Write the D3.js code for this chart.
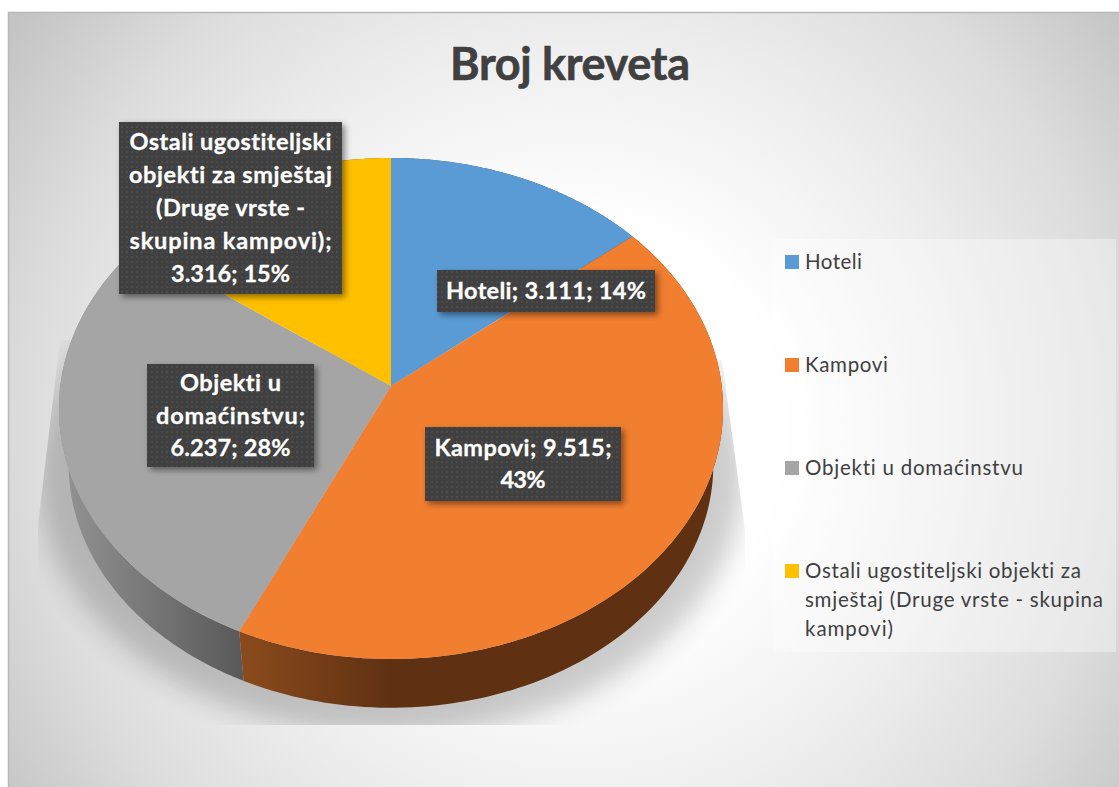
<!DOCTYPE html>
<html><head><meta charset="utf-8">
<script src="https://cdn.jsdelivr.net/npm/d3@7"></script>
<style>html,body{margin:0;padding:0;background:#fff;overflow:hidden}svg{display:block}text{font-family:Lato,"Open Sans",sans-serif;font-variant-ligatures:none}</style>
</head><body><svg id="c" width="1119" height="787"></svg>
<script>
const categories=["Hoteli","Kampovi","Objekti u domaćinstvu","Ostali ugostiteljski objekti za smještaj (Druge vrste - skupina kampovi)"];
const values=[3111,9515,6237,3316];
const percents=["14%","43%","28%","15%"];
const valueLabels=["3.111","9.515","6.237","3.316"];
const colors=["#5b9bd5","#f27e30","#a5a5a5","#ffc000"];
const legendLines=[["Hoteli"],["Kampovi"],["Objekti u domaćinstvu"],["Ostali ugostiteljski objekti za","smještaj (Druge vrste - skupina","kampovi)"]];
const labelLines=[["Hoteli; 3.111; 14%"],["Kampovi; 9.515;","43%"],["Objekti u","domaćinstvu;","6.237; 28%"],["Ostali ugostiteljski","objekti za smještaj","(Druge vrste -","skupina kampovi);","3.316; 15%"]];
const labelBoxes=[[437,270,218,42],[425,427,196,74],[147,364,167,103],[119,122,223,172]];
const labelWidths=[[200],[177,45],[101,149,120],[202,203,149,202,119]];
const legendWidths=[[57],[83],[218],[276,298,88]];

const svg=d3.select("#c"), defs=svg.append("defs");
const bg=defs.append("radialGradient").attr("id","bg").attr("gradientUnits","userSpaceOnUse")
 .attr("cx",575).attr("cy",430).attr("r",690);
[[0,"#fff"],[.3,"#fff"],[.55,"#efefef"],[.8,"#dcdcdc"],[1,"#c4c4c4"]].forEach(s=>bg.append("stop").attr("offset",s[0]).attr("stop-color",s[1]));
svg.append("rect").attr("x",8).attr("y",12).attr("width",1111).attr("height",775).attr("fill","url(#bg)");
svg.append("path").attr("d","M8.5,787V12.5H1119").attr("fill","none").attr("stroke","#b8b8b8").attr("stroke-width",1.5);

const k=-0.0898, topP={cx:391,cy:386,A:248.5,B:330.7}, baseP={cx:391,cy:443,A:241,B:321};
const proj=(P,a,r=1)=>{const u=r*Math.sin(a),v=-r*Math.cos(a),w=1+k*v;return [P.cx+P.B*u/w,P.cy+P.A*v/w];};
const line=d3.line();
const arcPts=(P,a0,a1)=>d3.range(0,121).map(i=>proj(P,a0+(a1-a0)*i/120));
const pie=d3.pie().sort(null)(values);

defs.append("filter").attr("id","sb").attr("x","-20%").attr("y","-20%").attr("width","140%").attr("height","140%")
 .append("feGaussianBlur").attr("stdDeviation",14);
defs.append("clipPath").attr("id","sc").append("path").attr("d","M60,340L38,525V725H745V530L722,360Z");
const shadowP={cx:391,cy:450,A:260,B:352};
svg.append("g").attr("clip-path","url(#sc)").append("path")
 .attr("d",line(arcPts(shadowP,0,2*Math.PI))+"Z").attr("fill","#000").attr("opacity",.2).attr("filter","url(#sb)");

const wallGrad=[["wb","#8a4a1c","#5f3112",244,390],["wg","#929292","#585858",66,244],["wy","#806000","#806000",0,400]];
wallGrad.forEach(g=>{const lg=defs.append("linearGradient").attr("id",g[0]).attr("gradientUnits","userSpaceOnUse").attr("x1",g[3]).attr("x2",g[4]).attr("y1",0).attr("y2",0);
 lg.append("stop").attr("offset",0).attr("stop-color",g[1]);lg.append("stop").attr("offset",1).attr("stop-color",g[2]);});
const wallFill=["#2e4e6a","url(#wb)","url(#wg)","url(#wy)"];
const drawOrder=[0,3,2,1];
svg.append("g").selectAll("path").data(drawOrder).join("path")
 .attr("fill",i=>wallFill[i])
 .attr("d",i=>{const p=pie[i];return line([...arcPts(topP,p.startAngle,p.endAngle),...arcPts(baseP,p.startAngle,p.endAngle).reverse()])+"Z";});
svg.append("g").selectAll("path").data(pie).join("path")
 .attr("fill",(d,i)=>colors[i])
 .attr("d",d=>line([[topP.cx,topP.cy],...arcPts(topP,d.startAngle,d.endAngle)])+"Z");

const pat=defs.append("pattern").attr("id","dots").attr("patternUnits","userSpaceOnUse").attr("width",10).attr("height",10);
pat.append("rect").attr("width",10).attr("height",10).attr("fill","#404040");
[[2,2],[7,2],[2,7],[7,7]].forEach(c=>pat.append("circle").attr("cx",c[0]).attr("cy",c[1]).attr("r",1).attr("fill","#505050"));
const ds=defs.append("filter").attr("id","ls").attr("x","-20%").attr("y","-20%").attr("width","140%").attr("height","140%");
ds.append("feDropShadow").attr("dx",3).attr("dy",3).attr("stdDeviation",3).attr("flood-color","#000").attr("flood-opacity",.45);
const lab=svg.append("g").selectAll("g").data(labelBoxes).join("g");
lab.append("rect").attr("x",d=>d[0]).attr("y",d=>d[1]).attr("width",d=>d[2]).attr("height",d=>d[3]).attr("fill","url(#dots)").attr("filter","url(#ls)");
lab.each(function(b,i){const g=d3.select(this),n=labelLines[i].length,cx=b[0]+b[2]/2,cy=b[1]+b[3]/2,h=32.8;
 labelLines[i].forEach((t,j)=>g.append("text").attr("x",cx).attr("y",cy+(j-(n-1)/2)*h+8).attr("text-anchor","middle").attr("fill","#fff").attr("stroke","#fff").attr("stroke-width",.3).attr("font-weight",700).attr("font-size",23.5)
  .attr("textLength",labelWidths[i][j]).attr("lengthAdjust","spacing").text(t));});

svg.append("text").attr("x",570).attr("y",80).attr("text-anchor","middle").attr("font-weight",700).attr("font-size",45).attr("fill","#404040").attr("stroke","#404040").attr("stroke-width",.6).attr("textLength",240).text("Broj kreveta");

svg.append("rect").attr("x",773).attr("y",239).attr("width",343).attr("height",413).attr("fill","#fff").attr("fill-opacity",.35);
const legendY=d3.scalePoint().domain(d3.range(categories.length)).range([262,571]);
const lg=svg.append("g").selectAll("g").data(categories).join("g");
lg.append("rect").attr("x",785).attr("y",(d,i)=>legendY(i)-7).attr("width",14).attr("height",14).attr("fill",(d,i)=>colors[i]);
lg.each(function(d,i){const g=d3.select(this);legendLines[i].forEach((t,j)=>g.append("text").attr("x",805).attr("y",legendY(i)+7+j*29).attr("font-size",20.5).attr("textLength",legendWidths[i][j]).attr("lengthAdjust","spacing").attr("fill","#404040").text(t));});
</script></body></html>
